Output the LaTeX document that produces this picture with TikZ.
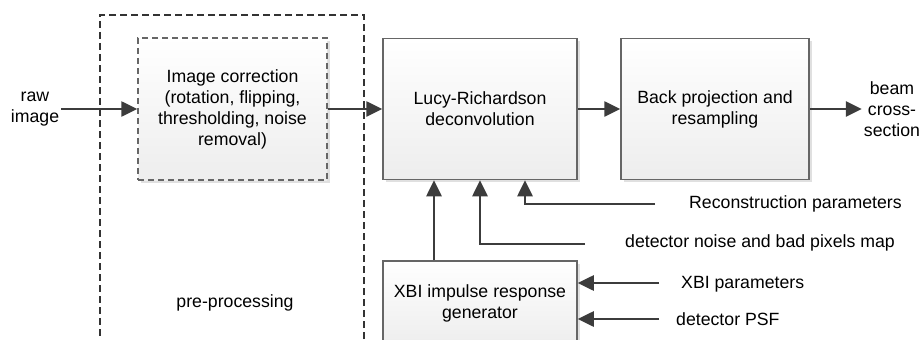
\documentclass[tikz,border=0pt]{standalone}
\usepackage{fontspec}
\setmainfont{Liberation Sans}
\usetikzlibrary{arrows.meta,shadows,calc}
\definecolor{linec}{HTML}{3C3C3C}
\definecolor{boxc}{HTML}{666666}
\definecolor{dashc}{HTML}{333333}
\begin{document}
\begin{tikzpicture}[x=1pt,y=-1pt,
  font=\fontsize{17.7}{21}\selectfont,
  blk/.style={draw=boxc, line width=1.5pt, top color=white, bottom color=gray!14,
    drop shadow={shadow xshift=2.5pt,shadow yshift=-2.5pt,fill=black!12,opacity=1},
    align=center, inner sep=0pt},
  dblk/.style={blk, draw=boxc, dash pattern=on 6pt off 4pt},
  arr/.style={draw=linec, line width=2.6pt, -{Triangle[length=16pt,width=15pt]}},
  lbl/.style={inner sep=0pt, anchor=west, text=black},
  txt/.style={inner sep=2pt, align=center, text=black}]
\useasboundingbox (0,0) rectangle (922,340);
% outer pre-processing frame
\node[draw=dashc, line width=1.5pt, dash pattern=on 7pt off 4pt,
      minimum width=264pt, minimum height=335pt, inner sep=0pt] (pre) at (232,182.5) {};
\node[txt] (pptext) at (235,303) {pre-processing};
% blocks
\node[dblk, minimum width=189pt, minimum height=142pt] (corr) at (232.5,109)
  {Image correction\\(rotation, flipping,\\thresholding, noise\\removal)};
\node[blk, minimum width=194pt, minimum height=141pt] (lucy) at (480,109)
  {Lucy-Richardson\\deconvolution};
\node[blk, minimum width=188pt, minimum height=141pt] (back) at (715,109)
  {Back projection and\\resampling};
\node[blk, minimum width=194pt, minimum height=84pt] (xbi) at (480,303)
  {XBI impulse response\\generator};
% free texts
\node[txt] (raw) at (35,109) {raw\\image};
\node[txt] (beam) at (892,109) {beam\\cross-\\section};
\node[lbl] (recon) at (689,204) {Reconstruction parameters};
\node[lbl] (det) at (625,243) {detector noise and bad pixels map};
\node[lbl] (xbip) at (681,284) {XBI parameters};
\node[lbl] (psf) at (676,319) {detector PSF};
% helper coordinates
\coordinate (c1) at (434,0);
\coordinate (c2) at (480,0);
\coordinate (c3) at (525,0);
\coordinate (rp) at (655,204);
\coordinate (dn) at (585,244);
\coordinate (xp) at (659,283);
\coordinate (ps) at (659,319);
% connectors
\draw[arr] (raw.east) -- (corr.west);
\draw[arr] (corr.east) -- (lucy.west);
\draw[arr] (lucy.east) -- (back.west);
\draw[arr] (back.east) -- (beam.west);
\draw[arr] (xbi.north -| c1) -- (lucy.south -| c1);
\draw[arr] (dn) -| (lucy.south -| c2);
\draw[arr] (rp) -| (lucy.south -| c3);
\draw[arr] (xp) -- (xp -| xbi.east);
\draw[arr] (ps) -- (ps -| xbi.east);
\end{tikzpicture}
\end{document}
